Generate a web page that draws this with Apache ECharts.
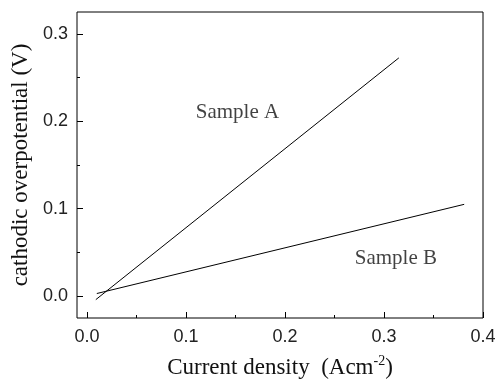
<!DOCTYPE html>
<html>
<head>
<meta charset="utf-8">
<script src="https://cdn.jsdelivr.net/npm/echarts@6/dist/echarts.min.js"></script>
<style>html,body{margin:0;padding:0;background:#fff}#c{width:497px;height:383px}</style>
</head>
<body>
<div id="c"></div>
<script>
const xTicks = [0, 0.1, 0.2, 0.3, 0.4];
const xMinorTicks = [0.05, 0.15, 0.25, 0.35];
const yTicks = [0, 0.1, 0.2, 0.3];
const yMinorTicks = [0.05, 0.15, 0.25];
const sampleAX = [0.009, 0.315];
const sampleAY = [-0.004, 0.2725];
const sampleBX = [0.01, 0.381];
const sampleBY = [0.003, 0.105];
const labelNames = ['Sample A', 'Sample B'];
const labelX = [0.152, 0.312];
const labelY = [0.2096, 0.0435];

const chart = echarts.init(document.getElementById('c'), null, {renderer: 'canvas'});
const serif = '"Liberation Serif", "Times New Roman", serif';
const sans = '"Liberation Sans", Arial, sans-serif';
const fmt = v => v.toFixed(1);

const xBase = {
  type: 'value', min: -0.01, max: 0.4, gridIndex: 0,
  splitLine: {show: false}, axisLine: {show: false, onZero: false}
};
const yBase = {
  type: 'value', min: -0.025, max: 0.325, gridIndex: 0,
  splitLine: {show: false}, axisLine: {show: false, onZero: false}
};

chart.setOption({
  animation: false,
  grid: {left: 77, right: 14, top: 12, bottom: 65, show: true, borderColor: '#000', borderWidth: 1,
    backgroundColor: 'transparent', containLabel: false, outerBoundsMode: 'none'},
  xAxis: [
    Object.assign({}, xBase, {
      position: 'bottom',
      name: 'Current density  (Acm{sup|-2})',
      nameLocation: 'middle', nameGap: 36,
      nameTextStyle: {fontFamily: serif, fontSize: 23, color: '#111', lineHeight: 28,
        rich: {sup: {fontFamily: serif, fontSize: 14, color: '#111', verticalAlign: 'top', lineHeight: 28, padding: [0,0,10,0]}}},
      axisTick: {show: true, inside: true, length: 6, customValues: xTicks, lineStyle: {color: '#000'}},
      axisLabel: {show: true, customValues: xTicks, formatter: fmt, fontFamily: sans, fontSize: 18, color: '#222', margin: 10}
    }),
    Object.assign({}, xBase, {
      position: 'bottom',
      axisTick: {show: true, inside: true, length: 3, customValues: xMinorTicks, lineStyle: {color: '#000'}},
      axisLabel: {show: false}
    })
  ],
  yAxis: [
    Object.assign({}, yBase, {
      position: 'left',
      name: 'cathodic overpotential (V)',
      nameLocation: 'middle', nameGap: 44,
      nameTextStyle: {fontFamily: serif, fontSize: 23, color: '#111'},
      axisTick: {show: true, inside: true, length: 6, customValues: yTicks, lineStyle: {color: '#000'}},
      axisLabel: {show: true, customValues: yTicks, formatter: fmt, fontFamily: sans, fontSize: 18, color: '#222', margin: 9}
    }),
    Object.assign({}, yBase, {
      position: 'left',
      axisTick: {show: true, inside: true, length: 3, customValues: yMinorTicks, lineStyle: {color: '#000'}},
      axisLabel: {show: false}
    })
  ],
  series: [
    {type: 'line', xAxisIndex: 0, yAxisIndex: 0, showSymbol: false, symbol: 'none',
     lineStyle: {color: '#000', width: 1}, data: sampleAX.map((x, i) => [x, sampleAY[i]])},
    {type: 'line', xAxisIndex: 0, yAxisIndex: 0, showSymbol: false, symbol: 'none',
     lineStyle: {color: '#000', width: 1}, data: sampleBX.map((x, i) => [x, sampleBY[i]])},
    {type: 'scatter', xAxisIndex: 0, yAxisIndex: 0, symbolSize: 0, silent: true,
     data: labelNames.map((n, i) => ({value: [labelX[i], labelY[i]], name: n})),
     label: {show: true, position: 'inside', formatter: p => p.name, fontFamily: serif, fontSize: 21, color: '#111'}}
  ]
});
</script>
</body>
</html>
